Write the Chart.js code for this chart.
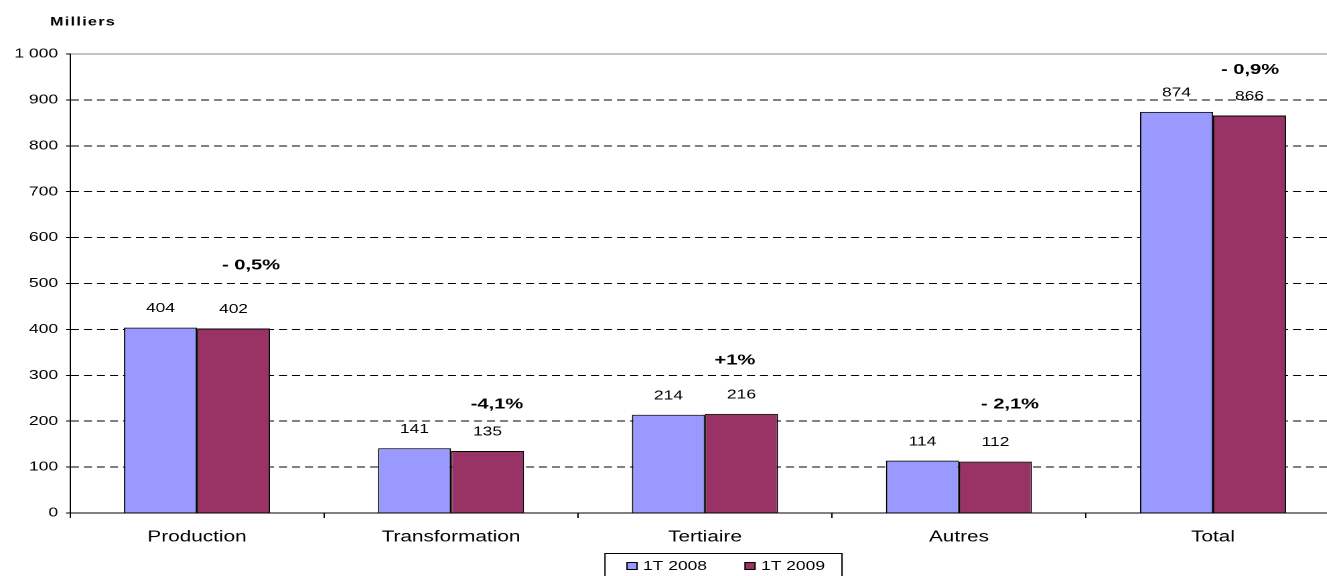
<!DOCTYPE html>
<html lang="fr">
<head>
    <meta charset="UTF-8">
    <title>Milliers</title>
    <style>
        html, body { margin: 0; padding: 0; overflow: hidden; background: #fff; }
        #wrap { width: 1327px; height: 576px; overflow: hidden; }
        /* the original picture is stretched sideways, text included */
        #chart { transform: scaleX(1.3396); transform-origin: 0 0; }
    </style>
</head>
<body>
    <div id="wrap"><canvas id="chart" width="1004" height="585"></canvas></div>
    <script src="https://cdn.jsdelivr.net/npm/chart.js"></script>
    <script>
        const categories = ['Production', 'Transformation', 'Tertiaire', 'Autres', 'Total'];
        const serie2008 = [404, 141, 214, 114, 874];
        const serie2009 = [402, 135, 216, 112, 866];
        const variations = ['- 0,5%', '-4,1%', '+1%', '- 2,1%', '- 0,9%'];
        const seriesNames = ['1T 2008', '1T 2009'];

        const SX = 1.3396;
        const FONT = 'Arial, "Liberation Sans", sans-serif';

        // where the variation texts sit: category index + shift, y in data units
        const varPos = [[0.213, 540], [1.181, 237], [2.118, 333], [3.201, 237], [4.146, 965]];

        const labelsPlugin = {
            id: 'labels',
            afterDatasetsDraw(chart) {
                const ctx = chart.ctx;
                const xs = chart.scales.x, ys = chart.scales.y;
                ctx.save();
                ctx.fillStyle = '#000';
                ctx.textAlign = 'center';
                ctx.textBaseline = 'middle';
                ctx.font = '13px ' + FONT;
                chart.data.datasets.forEach((ds, i) => {
                    chart.getDatasetMeta(i).data.forEach((bar, j) => {
                        ctx.fillText(String(ds.data[j]), bar.x, bar.y - 19);
                    });
                });
                ctx.font = 'bold 15px ' + FONT;
                const step = xs.getPixelForValue(1) - xs.getPixelForValue(0);
                variations.forEach((t, j) => {
                    const p = varPos[j];
                    ctx.fillText(t, xs.getPixelForValue(0) + p[0] * step, ys.getPixelForValue(p[1]));
                });
                // unit
                ctx.textAlign = 'left';
                ctx.font = 'bold 12px ' + FONT;
                ctx.letterSpacing = '1px';
                ctx.fillText('Milliers', 50 / SX, 22);
                ctx.letterSpacing = '0px';
                // legend
                const bx = 605 / SX, by = 553, bw = 237 / SX, bh = 26;
                ctx.strokeStyle = '#000';
                ctx.lineWidth = 1;
                ctx.strokeRect(bx, by + 0.5, bw, bh);
                ctx.font = '13px ' + FONT;
                const itemX = [627 / SX, 745 / SX];
                chart.data.datasets.forEach((ds, i) => {
                    ctx.fillStyle = ds.backgroundColor;
                    ctx.fillRect(itemX[i], by + 9, 7.5, 8);
                    ctx.strokeRect(itemX[i], by + 9.5, 7.5, 7);
                    ctx.fillStyle = '#000';
                    ctx.fillText(ds.label, itemX[i] + 12, by + 13.5);
                });
                ctx.restore();
            }
        };

        new Chart(document.getElementById('chart'), {
            type: 'bar',
            data: {
                labels: categories,
                datasets: [
                    { label: seriesNames[0], data: serie2008, backgroundColor: '#9999FF', borderColor: '#000', borderWidth: 1 },
                    { label: seriesNames[1], data: serie2009, backgroundColor: '#993366', borderColor: '#000', borderWidth: 1 }
                ]
            },
            options: {
                responsive: false,
                animation: false,
                devicePixelRatio: 2,
                layout: { padding: { top: 54, right: 5 / SX, bottom: 32, left: 0 } },
                datasets: { bar: { categoryPercentage: 0.575, barPercentage: 1 } },
                plugins: { legend: { display: false }, tooltip: { enabled: false } },
                scales: {
                    x: {
                        grid: { offset: true, drawOnChartArea: false, drawTicks: true, tickLength: 5, color: '#000' },
                        border: { color: '#000', width: 1 },
                        ticks: { color: '#000', font: { size: 15.5, family: FONT }, padding: 10 },
                        afterFit(s) { s.height = 40; }
                    },
                    y: {
                        min: 0, max: 1000,
                        grid: {
                            color: c => (c.tick && c.tick.value === 1000) ? '#888' : '#000',
                            tickColor: '#000', tickLength: 4 / SX, tickBorderDash: [], lineWidth: 1
                        },
                        border: {
                            color: '#000', width: 1,
                            dash: c => (c.tick && c.tick.value === 1000) ? [] : [8 / SX, 5 / SX]
                        },
                        ticks: {
                            stepSize: 100, color: '#000', padding: 8 / SX,
                            font: { size: 13, family: FONT },
                            callback: v => v >= 1000 ? '1 000' : String(v)
                        },
                        afterFit(s) { s.width = 70 / SX; }
                    }
                }
            },
            plugins: [labelsPlugin]
        });
    </script>
</body>
</html>
